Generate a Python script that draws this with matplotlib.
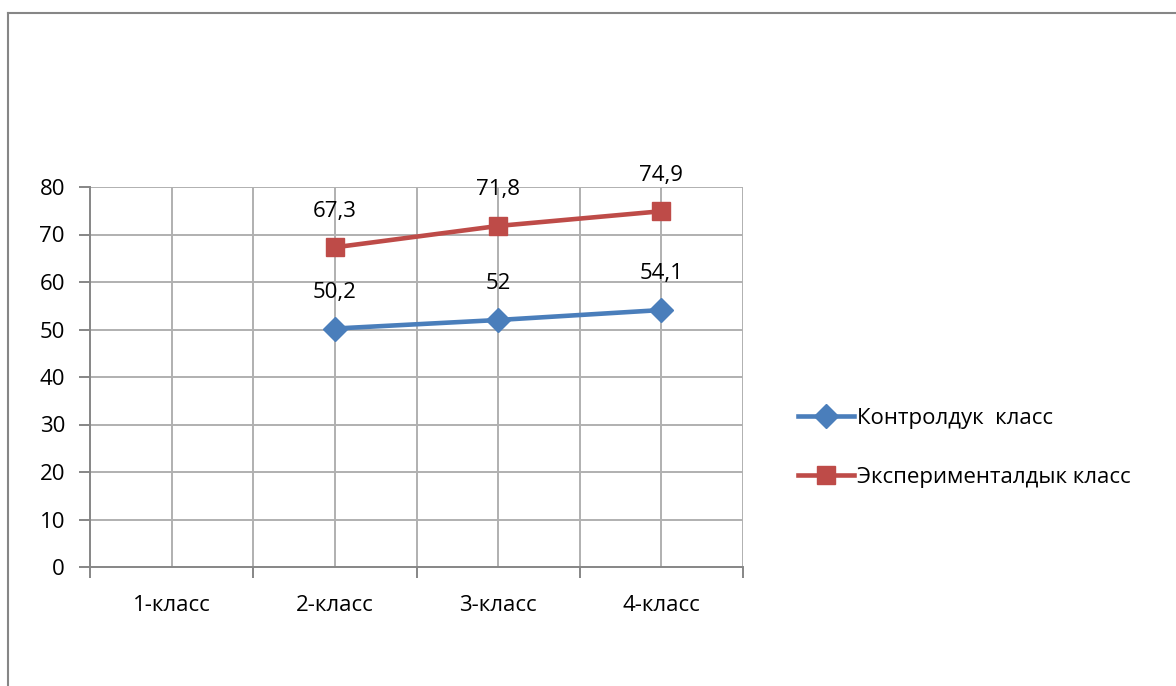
import matplotlib
matplotlib.use("Agg")
import matplotlib.pyplot as plt
from matplotlib.lines import Line2D
import numpy as np

categories = ["1-класс", "2-класс", "3-класс", "4-класс"]
control = [np.nan, 50.2, 52, 54.1]
experimental = [np.nan, 67.3, 71.8, 74.9]
control_labels = ["", "50,2", "52", "54,1"]
experimental_labels = ["", "67,3", "71,8", "74,9"]
series_names = ["Контролдук  класс", "Экспериментaлдык класс".replace("a", "а")]
yticks = [0, 10, 20, 30, 40, 50, 60, 70, 80]

plt.rcParams['font.family'] = ['Open Sans', 'DejaVu Sans']

W, H = 1176, 686
fig = plt.figure(figsize=(W / 100, H / 100), dpi=100)
ax = fig.add_axes([90 / W, 1 - 567 / H, (743 - 90) / W, (567 - 187) / H])

grid_c = "#b0b0b0"
axis_c = "#868686"
blue = "#4a7ebb"
red = "#be4b48"
fs = 16

x = np.arange(len(categories))
ax.set_xlim(-0.5, len(categories) - 0.5)
ax.set_ylim(0, 80)

# gridlines
for yv in yticks[1:]:
    ax.axhline(yv, color=grid_c, lw=1.4, zorder=1)
for xv in np.arange(-0.5, len(categories), 0.5)[1:]:
    ax.axvline(xv, color=grid_c, lw=1.4, zorder=1)

for s in ["top", "right"]:
    ax.spines[s].set_visible(False)
for s in ["left", "bottom"]:
    ax.spines[s].set_color(axis_c)
    ax.spines[s].set_linewidth(1.4)

ax.set_yticks(yticks)
ax.set_xticks(np.arange(-0.5, len(categories), 1.0))
ax.set_xticklabels([])
ax.set_xticks(x, minor=True)
ax.set_xticklabels(categories, minor=True)
ax.tick_params(axis="x", which="major", length=8, width=1.4, color=axis_c)
ax.tick_params(axis="x", which="minor", length=0, pad=20, labelsize=fs)
ax.tick_params(axis="y", length=8, width=1.4, color=axis_c, labelsize=fs, pad=10)

ax.plot(x, control, color=blue, lw=3.3, marker="D", ms=12.5, zorder=3,
        label=series_names[0])
ax.plot(x, experimental, color=red, lw=3.3, marker="s", ms=13.5, zorder=3,
        label=series_names[1])

for xi, v, t in zip(x, control, control_labels):
    if t:
        ax.annotate(t, (xi, v), xytext=(0, 26), textcoords="offset points",
                    ha="center", va="center", fontsize=fs)
for xi, v, t in zip(x, experimental, experimental_labels):
    if t:
        ax.annotate(t, (xi, v), xytext=(0, 26), textcoords="offset points",
                    ha="center", va="center", fontsize=fs)

leg = fig.legend(loc="upper left", bbox_to_anchor=(778 / W, 1 - 388 / H),
                 frameon=False, fontsize=fs, handlelength=2.5,
                 handletextpad=0.15, labelspacing=1.7)

# outer border (left and top only visible)
fig.add_artist(Line2D([8 / W, 8 / W], [0, 1 - 13 / H], transform=fig.transFigure,
                      color="#868686", lw=1.5))
fig.add_artist(Line2D([8 / W, 1], [1 - 13 / H, 1 - 13 / H], transform=fig.transFigure,
                      color="#868686", lw=1.5))

fig.savefig("out.png", dpi=100)
